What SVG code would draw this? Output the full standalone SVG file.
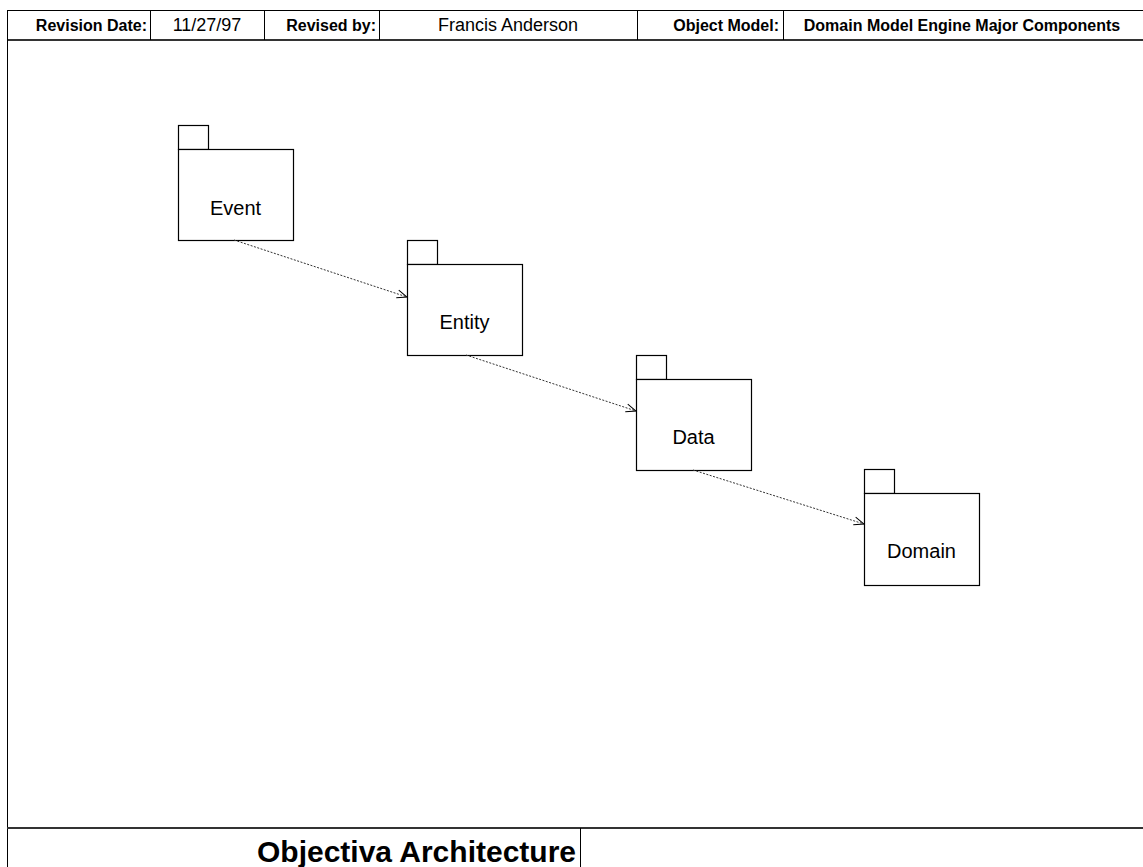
<svg xmlns="http://www.w3.org/2000/svg" width="1143" height="867" viewBox="0 0 1143 867">
  <style>
    .frame { stroke: #000; stroke-width: 1; fill: none; }
    .rule { stroke: #333; stroke-width: 2; fill: none; }
    .hdr-b { font-family: "Liberation Sans", Arial, sans-serif; font-size: 16px; font-weight: bold; fill: #000; }
    .hdr { font-family: "Liberation Sans", Arial, sans-serif; font-size: 18px; fill: #000; }
    .pkg { fill: #fff; stroke: #000; stroke-width: 1.2; }
    .pkg-label { font-family: "Liberation Sans", Arial, sans-serif; font-size: 20px; fill: #000; text-anchor: middle; }
    .dep { stroke: #333; stroke-width: 1; fill: none; stroke-dasharray: 2 1.5; marker-end: url(#open-arrow); }
    .title { font-family: "Liberation Sans", Arial, sans-serif; font-size: 30px; font-weight: bold; fill: #000; text-anchor: end; }
  </style>
  <defs>
    <marker id="open-arrow" viewBox="0 0 12 10" refX="11" refY="5" markerWidth="12" markerHeight="10" markerUnits="userSpaceOnUse" orient="auto">
      <path d="M1,1 L11,5 L1,9" fill="none" stroke="#000" stroke-width="1"/>
    </marker>
  </defs>

  <rect width="1143" height="867" fill="#fff"/>

  <!-- title block: header row -->
  <g id="header">
    <line class="frame" x1="7" y1="10.5" x2="1143" y2="10.5"/>
    <line class="rule" x1="7" y1="40" x2="1143" y2="40"/>
    <line class="frame" x1="150.5" y1="10" x2="150.5" y2="40"/>
    <line class="frame" x1="264.5" y1="10" x2="264.5" y2="40"/>
    <line class="frame" x1="379.5" y1="10" x2="379.5" y2="40"/>
    <line class="frame" x1="637.5" y1="10" x2="637.5" y2="40"/>
    <line class="frame" x1="783.5" y1="10" x2="783.5" y2="40"/>
    <text class="hdr-b" x="147" y="31" text-anchor="end">Revision Date:</text>
    <text class="hdr" x="207" y="31" text-anchor="middle">11/27/97</text>
    <text class="hdr-b" x="376" y="31" text-anchor="end">Revised by:</text>
    <text class="hdr" x="508" y="31" text-anchor="middle">Francis Anderson</text>
    <text class="hdr-b" x="779" y="31" text-anchor="end">Object Model:</text>
    <text class="hdr-b" x="962" y="31" text-anchor="middle">Domain Model Engine Major Components</text>
  </g>

  <!-- left edge of the sheet -->
  <line class="frame" x1="7.5" y1="10" x2="7.5" y2="867"/>

  <!-- footer row -->
  <g id="footer">
    <line class="rule" x1="7" y1="828" x2="1143" y2="828"/>
    <line class="frame" x1="580.5" y1="828" x2="580.5" y2="867"/>
    <text class="title" x="576" y="862">Objectiva Architecture</text>
  </g>

  <!-- packages -->
  <g id="pkg-event">
    <rect class="pkg" x="178.5" y="125.5" width="30" height="24"/>
    <rect class="pkg" x="178.5" y="149.5" width="115" height="91"/>
    <text class="pkg-label" x="235.5" y="215">Event</text>
  </g>
  <g id="pkg-entity">
    <rect class="pkg" x="407.5" y="240.5" width="30" height="24"/>
    <rect class="pkg" x="407.5" y="264.5" width="115" height="91"/>
    <text class="pkg-label" x="464.5" y="329">Entity</text>
  </g>
  <g id="pkg-data">
    <rect class="pkg" x="636.5" y="355.5" width="30" height="24"/>
    <rect class="pkg" x="636.5" y="379.5" width="115" height="91"/>
    <text class="pkg-label" x="693.5" y="444">Data</text>
  </g>
  <g id="pkg-domain">
    <rect class="pkg" x="864.5" y="469.5" width="30" height="24"/>
    <rect class="pkg" x="864.5" y="493.5" width="115" height="92"/>
    <text class="pkg-label" x="921.5" y="558">Domain</text>
  </g>

  <!-- dependencies -->
  <g id="connectors">
    <line class="dep" x1="234" y1="240" x2="407" y2="297"/>
    <line class="dep" x1="466" y1="355" x2="636" y2="411"/>
    <line class="dep" x1="693" y1="470" x2="864" y2="524"/>
  </g>
</svg>
